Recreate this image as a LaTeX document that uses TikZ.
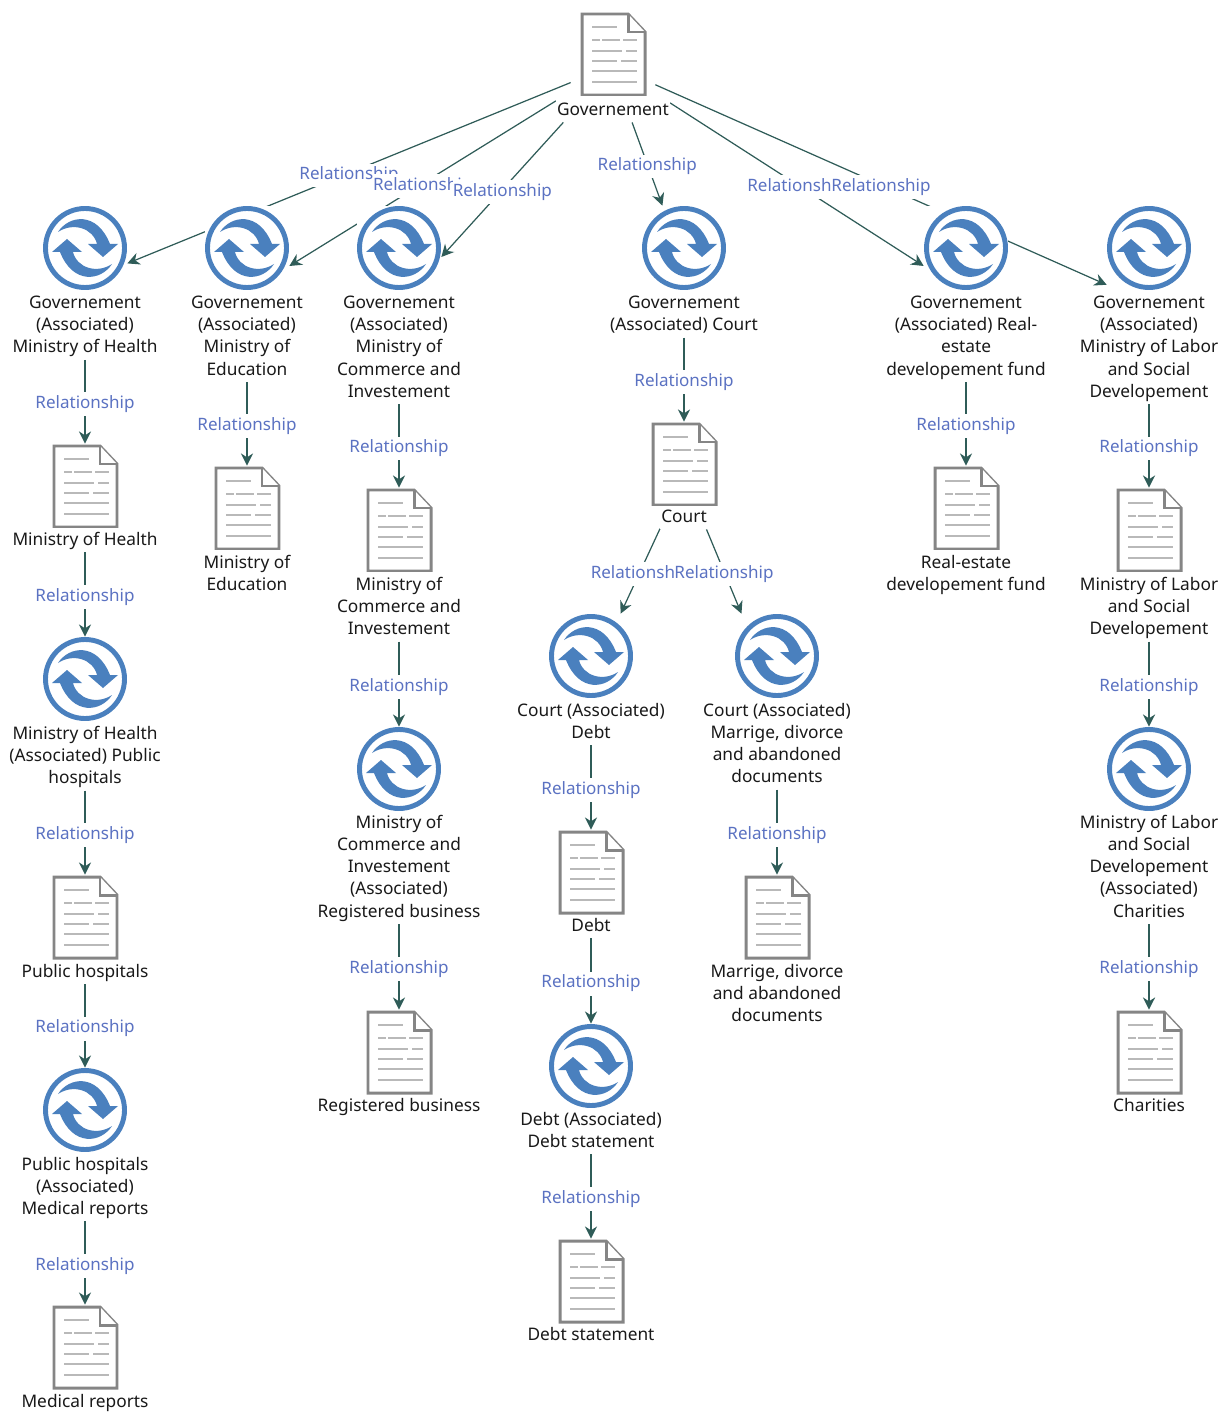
\documentclass[tikz,border=0pt]{standalone}
\usepackage{fontspec}
\setmainfont{Noto Sans}
\usetikzlibrary{arrows.meta,backgrounds}
\definecolor{relline}{HTML}{2F5C58}
\definecolor{rellabel}{HTML}{5B72C2}
\definecolor{syncblue}{HTML}{4A80BE}
\definecolor{docgray}{HTML}{858585}
\definecolor{docline}{HTML}{B9B9B9}
\begin{document}
\begin{tikzpicture}[x=0.02cm,y=-0.02cm]
	\tikzstyle{docicon} = [rectangle,fill=white,inner sep=0,minimum size=1.68cm,path picture={
		\begin{scope}[shift={(path picture bounding box.center)}]
			\draw[docgray,line width=1.7pt,fill=white,line join=miter] (-31,-40) -- (15,-40) -- (32,-22) -- (32,41) -- (-31,41) -- cycle;
			\draw[docgray,line width=1.7pt,fill=white] (15,-40) -- (15,-22) -- (32,-22);
			\draw[docline,line width=1pt] (-21,-27) -- (4,-27) (-21,-14) -- (-13,-14) (-11,-14) -- (7,-14) (10,-14) -- (24,-14)
				(-21,-3) -- (9,-3) (13,-3) -- (24,-3) (-21,7) -- (4,7) (8,7) -- (24,7) (-21,17) -- (24,17) (-21,28) -- (24,28);
		\end{scope}}]
	\tikzstyle{syncicon} = [rectangle,fill=white,inner sep=0,minimum size=1.68cm,path picture={
		\begin{scope}[shift={(path picture bounding box.center)}]
			\draw[syncblue,line width=2.8pt] (0,0) circle (39.5);
			\fill[syncblue] (-27,-16) .. controls (-16,-33) and (12,-37) .. (25,-4) -- (33,-4) -- (18,9) -- (3,-4) -- (12,-4) .. controls (8,-20) and (-12,-26) .. (-27,-16) -- cycle;
			\fill[syncblue] (27,16) .. controls (16,33) and (-12,37) .. (-25,4) -- (-33,4) -- (-18,-9) -- (-3,4) -- (-12,4) .. controls (-8,20) and (12,26) .. (27,16) -- cycle;
		\end{scope}}]
	\tikzstyle{nodetext} = [anchor=north,yshift=-0.07cm,fill=white,inner xsep=0.5pt,inner ysep=0,align=center,
		font=\fontsize{9.85}{12.65}\selectfont,text=black!90,execute at begin node=\strut]
	\tikzstyle{rel} = [draw=relline,line width=0.7pt,-{Stealth[length=7pt,width=7pt]}]
	\tikzstyle{rellab} = [yshift=-0.05cm,fill=white,inner xsep=0,inner ysep=0,minimum height=13.6pt,text=rellabel,
		font=\fontsize{9.7}{12.52}\selectfont]

	\useasboundingbox (0,0) rectangle (1225,1412);

	\node[docicon] (Gov) at (613,54) {};
	\node[nodetext] (GovT) at (613,96) {Governement};

	\node[syncicon] (GovHealth) at (85,248) {};
	\node[nodetext] (GovHealthT) at (85,292) {Governement\\(Associated)\\Ministry of Health};
	\node[docicon] (Health) at (85,486) {};
	\node[nodetext] (HealthT) at (85,526) {Ministry of Health};
	\node[syncicon] (HealthHosp) at (85,679) {};
	\node[nodetext] (HealthHospT) at (85,722) {Ministry of Health\\(Associated) Public\\hospitals};
	\node[docicon] (Hosp) at (85,917) {};
	\node[nodetext] (HospT) at (85,958) {Public hospitals};
	\node[syncicon] (HospMed) at (85,1110) {};
	\node[nodetext] (HospMedT) at (85,1153) {Public hospitals\\(Associated)\\Medical reports};
	\node[docicon] (Med) at (85,1347) {};
	\node[nodetext] (MedT) at (85,1388) {Medical reports};

	\node[syncicon] (GovEdu) at (247,248) {};
	\node[nodetext] (GovEduT) at (247,292) {Governement\\(Associated)\\Ministry of\\Education};
	\node[docicon] (Edu) at (247,508) {};
	\node[nodetext] (EduT) at (247,551) {Ministry of\\Education};

	\node[syncicon] (GovComm) at (399,248) {};
	\node[nodetext] (GovCommT) at (399,292) {Governement\\(Associated)\\Ministry of\\Commerce and\\Investement};
	\node[docicon] (Comm) at (399,530) {};
	\node[nodetext] (CommT) at (399,573) {Ministry of\\Commerce and\\Investement};
	\node[syncicon] (CommBus) at (399,769) {};
	\node[nodetext] (CommBusT) at (399,811) {Ministry of\\Commerce and\\Investement\\(Associated)\\Registered business};
	\node[docicon] (Bus) at (399,1052) {};
	\node[nodetext] (BusT) at (399,1092) {Registered business};

	\node[syncicon] (GovCourt) at (684,248) {};
	\node[nodetext] (GovCourtT) at (684,292) {Governement\\(Associated) Court};
	\node[docicon] (Court) at (684,464) {};
	\node[nodetext] (CourtT) at (684,503) {Court};

	\node[syncicon] (CourtDebt) at (591,656) {};
	\node[nodetext] (CourtDebtT) at (591,699) {Court (Associated)\\Debt};
	\node[docicon] (Debt) at (591,872) {};
	\node[nodetext] (DebtT) at (591,912) {Debt};
	\node[syncicon] (DebtStat) at (591,1066) {};
	\node[nodetext] (DebtStatT) at (591,1108) {Debt (Associated)\\Debt statement};
	\node[docicon] (Stat) at (591,1281) {};
	\node[nodetext] (StatT) at (591,1321) {Debt statement};

	\node[syncicon] (CourtMarr) at (777,656) {};
	\node[nodetext] (CourtMarrT) at (777,699) {Court (Associated)\\Marrige, divorce\\and abandoned\\documents};
	\node[docicon] (Marr) at (777,917) {};
	\node[nodetext] (MarrT) at (777,960) {Marrige, divorce\\and abandoned\\documents};

	\node[syncicon] (GovEstate) at (966,248) {};
	\node[nodetext] (GovEstateT) at (966,292) {Governement\\(Associated) Real-\\estate\\developement fund};
	\node[docicon] (Estate) at (966,508) {};
	\node[nodetext] (EstateT) at (966,551) {Real-estate\\developement fund};

	\node[syncicon] (GovLabor) at (1149,248) {};
	\node[nodetext] (GovLaborT) at (1149,292) {Governement\\(Associated)\\Ministry of Labor\\and Social\\Developement};
	\node[docicon] (Labor) at (1149,530) {};
	\node[nodetext] (LaborT) at (1149,573) {Ministry of Labor\\and Social\\Developement};
	\node[syncicon] (LaborChar) at (1149,769) {};
	\node[nodetext] (LaborCharT) at (1149,811) {Ministry of Labor\\and Social\\Developement\\(Associated)\\Charities};
	\node[docicon] (Char) at (1149,1052) {};
	\node[nodetext] (CharT) at (1149,1092) {Charities};

	\begin{pgfonlayer}{background}
	\draw[rel] (Gov.214.6) -- node[rellab] {Relationship} (GovHealth.-20.7);
	\draw[rel] (GovT.170.2) -- node[rellab] {Relationship} (GovEdu.-23.2);
	\draw[rel] (GovT.193.5) -- node[rellab] {Relationship} (GovComm.-12.1);
	\draw[rel] (GovT.-31.6) -- node[rellab] {Relationship} (GovCourt.117.6);
	\draw[rel] (GovT.8.3) -- node[rellab] {Relationship} (GovEstate.203.2);
	\draw[rel] (Gov.-36.4) -- node[rellab] {Relationship} (GovLabor.221.4);

	\draw[rel] (GovHealthT) -- node[rellab] {Relationship} (Health);
	\draw[rel] (HealthT) -- node[rellab] {Relationship} (HealthHosp);
	\draw[rel] (HealthHospT) -- node[rellab] {Relationship} (Hosp);
	\draw[rel] (HospT) -- node[rellab] {Relationship} (HospMed);
	\draw[rel] (HospMedT) -- node[rellab] {Relationship} (Med);

	\draw[rel] (GovEduT) -- node[rellab] {Relationship} (Edu);

	\draw[rel] (GovCommT) -- node[rellab] {Relationship} (Comm);
	\draw[rel] (CommT) -- node[rellab] {Relationship} (CommBus);
	\draw[rel] (CommBusT) -- node[rellab] {Relationship} (Bus);

	\draw[rel] (GovCourtT) -- node[rellab] {Relationship} (Court);
	\draw[rel] (CourtT.204.6) -- node[rellab] {Relationship} (CourtDebt.55.6);
	\draw[rel] (CourtT.-27.6) -- node[rellab] {Relationship} (CourtMarr.130.8);

	\draw[rel] (CourtDebtT) -- node[rellab] {Relationship} (Debt);
	\draw[rel] (DebtT) -- node[rellab] {Relationship} (DebtStat);
	\draw[rel] (DebtStatT) -- node[rellab] {Relationship} (Stat);

	\draw[rel] (CourtMarrT) -- node[rellab] {Relationship} (Marr);

	\draw[rel] (GovEstateT) -- node[rellab] {Relationship} (Estate);

	\draw[rel] (GovLaborT) -- node[rellab] {Relationship} (Labor);
	\draw[rel] (LaborT) -- node[rellab] {Relationship} (LaborChar);
	\draw[rel] (LaborCharT) -- node[rellab] {Relationship} (Char);
	\end{pgfonlayer}
\end{tikzpicture}
\end{document}
